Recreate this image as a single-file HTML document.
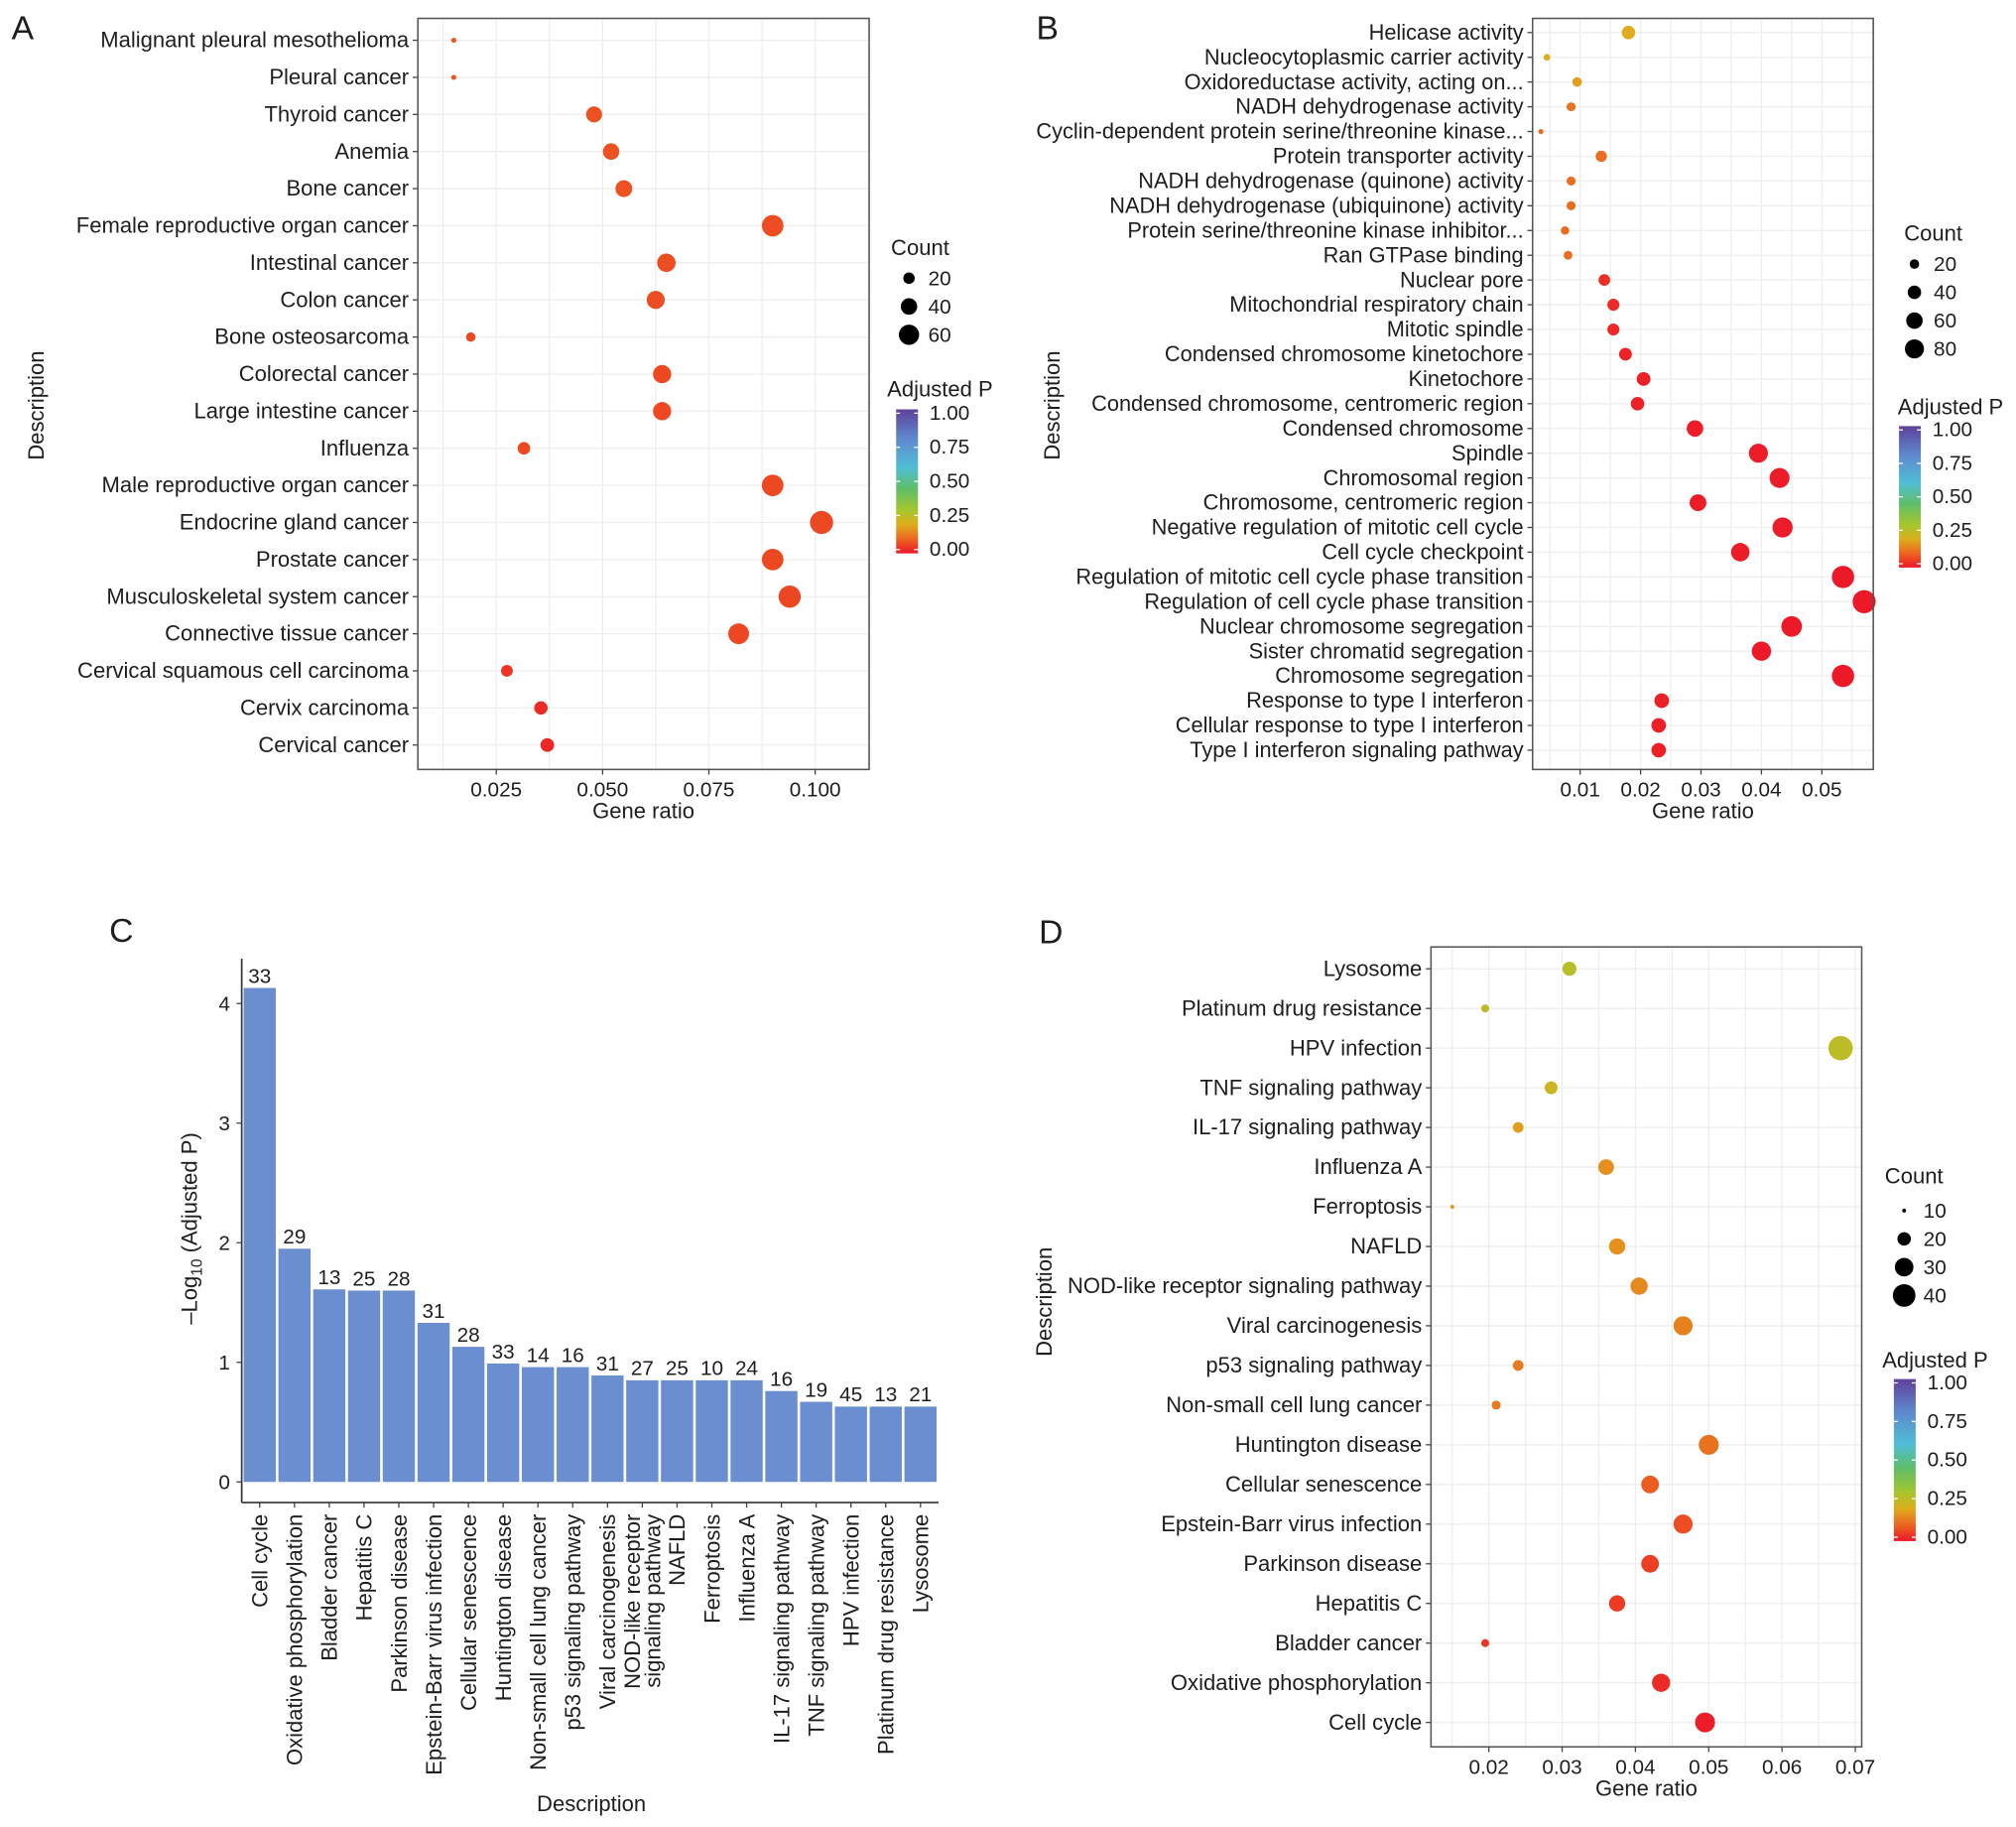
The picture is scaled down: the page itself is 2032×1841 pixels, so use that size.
<!DOCTYPE html>
<html><head><meta charset="utf-8"><style>
html,body{margin:0;padding:0;background:#fff}
svg{display:block}
text{font-family:"Liberation Sans",Arial,sans-serif;fill:#1e1e1e}
</style></head><body>
<svg id="fig" width="2032" height="1841" viewBox="0 0 1568 1420" xmlns="http://www.w3.org/2000/svg"></svg>
<script>
// ---------- Panel A data ----------
const aTerms=["Malignant pleural mesothelioma","Pleural cancer","Thyroid cancer","Anemia","Bone cancer","Female reproductive organ cancer","Intestinal cancer","Colon cancer","Bone osteosarcoma","Colorectal cancer","Large intestine cancer","Influenza","Male reproductive organ cancer","Endocrine gland cancer","Prostate cancer","Musculoskeletal system cancer","Connective tissue cancer","Cervical squamous cell carcinoma","Cervix carcinoma","Cervical cancer"];
const aRatio=[0.015,0.015,0.048,0.052,0.055,0.090,0.065,0.0625,0.019,0.064,0.064,0.0315,0.090,0.1015,0.090,0.094,0.082,0.0275,0.0355,0.037];
const aCount=[5,5,38,40,42,68,50,48,14,49,49,24,68,78,68,72,63,21,27,28];
const aP=[0.08,0.08,0.075,0.075,0.075,0.07,0.07,0.07,0.065,0.065,0.065,0.065,0.065,0.065,0.065,0.06,0.06,0.035,0.025,0.02];
const aTicks=[0.025,0.050,0.075,0.100];
const aTickLabels=["0.025","0.050","0.075","0.100"];
const aLegendCounts=[20,40,60];
// ---------- Panel B data ----------
const bTerms=["Helicase activity","Nucleocytoplasmic carrier activity","Oxidoreductase activity, acting on...","NADH dehydrogenase activity","Cyclin-dependent protein serine/threonine kinase...","Protein transporter activity","NADH dehydrogenase (quinone) activity","NADH dehydrogenase (ubiquinone) activity","Protein serine/threonine kinase inhibitor...","Ran GTPase binding","Nuclear pore","Mitochondrial respiratory chain","Mitotic spindle","Condensed chromosome kinetochore","Kinetochore","Condensed chromosome, centromeric region","Condensed chromosome","Spindle","Chromosomal region","Chromosome, centromeric region","Negative regulation of mitotic cell cycle","Cell cycle checkpoint","Regulation of mitotic cell cycle phase transition","Regulation of cell cycle phase transition","Nuclear chromosome segregation","Sister chromatid segregation","Chromosome segregation","Response to type I interferon","Cellular response to type I interferon","Type I interferon signaling pathway"];
const bRatio=[0.018,0.0045,0.0095,0.0085,0.0035,0.0135,0.0085,0.0085,0.0075,0.008,0.014,0.0155,0.0155,0.0175,0.0205,0.0195,0.029,0.0395,0.043,0.0295,0.0435,0.0365,0.0535,0.057,0.045,0.040,0.0535,0.0235,0.023,0.023];
const bCount=[40,10,20,18,6,28,18,18,16,17,30,32,32,36,42,40,60,80,88,62,90,75,110,118,94,82,110,48,47,47];
const bP=[0.2,0.2,0.18,0.12,0.11,0.11,0.11,0.11,0.11,0.11,0.03,0.025,0.02,0.015,0.01,0.01,0.005,0.005,0.005,0.005,0.005,0.005,0.002,0.002,0.002,0.002,0.002,0.01,0.01,0.01];
const bTicks=[0.01,0.02,0.03,0.04,0.05];
const bTickLabels=["0.01","0.02","0.03","0.04","0.05"];
const bLegendCounts=[20,40,60,80];
// ---------- Panel C data ----------
const cTerms=["Cell cycle","Oxidative phosphorylation","Bladder cancer","Hepatitis C","Parkinson disease","Epstein-Barr virus infection","Cellular senescence","Huntington disease","Non-small cell lung cancer","p53 signaling pathway","Viral carcinogenesis","NOD-like receptor|signaling pathway","NAFLD","Ferroptosis","Influenza A","IL-17 signaling pathway","TNF signaling pathway","HPV infection","Platinum drug resistance","Lysosome"];
const cValues=[4.13,1.95,1.61,1.60,1.60,1.33,1.13,0.99,0.96,0.96,0.89,0.85,0.85,0.85,0.85,0.76,0.67,0.63,0.63,0.63];
const cCounts=[33,29,13,25,28,31,28,33,14,16,31,27,25,10,24,16,19,45,13,21];
const cTicks=[0,1,2,3,4];
// ---------- Panel D data ----------
const dTerms=["Lysosome","Platinum drug resistance","HPV infection","TNF signaling pathway","IL-17 signaling pathway","Influenza A","Ferroptosis","NAFLD","NOD-like receptor signaling pathway","Viral carcinogenesis","p53 signaling pathway","Non-small cell lung cancer","Huntington disease","Cellular senescence","Epstein-Barr virus infection","Parkinson disease","Hepatitis C","Bladder cancer","Oxidative phosphorylation","Cell cycle"];
const dRatio=[0.031,0.0195,0.068,0.0285,0.024,0.036,0.015,0.0375,0.0405,0.0465,0.024,0.021,0.050,0.042,0.0465,0.042,0.0375,0.0195,0.0435,0.0495];
const dCount=[21,13,45,19,16,24,10,25,27,31,16,14,33,28,31,28,25,13,29,33];
const dP=[0.27,0.26,0.26,0.23,0.18,0.16,0.16,0.16,0.15,0.14,0.13,0.13,0.12,0.09,0.07,0.05,0.045,0.04,0.025,0.005];
const dTicks=[0.02,0.03,0.04,0.05,0.06,0.07];
const dTickLabels=["0.02","0.03","0.04","0.05","0.06","0.07"];
const dLegendCounts=[10,20,30,40];

const NS="http://www.w3.org/2000/svg";
const svg=document.getElementById('fig');
function el(tag,attrs,parent,txt){const e=document.createElementNS(NS,tag);for(const k in attrs)e.setAttribute(k,attrs[k]);if(txt!==undefined)e.textContent=txt;(parent||svg).appendChild(e);return e;}
const stops=[[0,[236,24,40]],[0.1,[236,100,32]],[0.2,[222,172,28]],[0.3,[165,198,45]],[0.45,[95,190,105]],[0.6,[80,190,215]],[0.8,[95,135,205]],[1,[95,65,155]]];
function pcol(p){for(let i=1;i<stops.length;i++){if(p<=stops[i][0]){const a=stops[i-1],b=stops[i];const t=(p-a[0])/(b[0]-a[0]);const c=a[1].map((v,j)=>Math.round(v+(b[1][j]-v)*t));return `rgb(${c[0]},${c[1]},${c[2]})`;}}return 'rgb(95,65,155)';}

let gradN=0;
function colorbar(g,x,y,w,h,labelX){
  const id='cb'+(gradN++);
  const defs=el('defs',{},g);
  const lg=el('linearGradient',{id:id,x1:0,y1:1,x2:0,y2:0},defs);
  stops.forEach(s=>el('stop',{offset:s[0],'stop-color':pcol(s[0])},lg));
  const r=el('rect',{x:x,y:y,width:w,height:h,fill:`url(#${id})`},g);
  
  
  ['1.00','0.75','0.50','0.25','0.00'].forEach((t,i)=>{
    const ty=y+3+i*(h-6)/4;
    el('line',{x1:x,x2:x+3,y1:ty,y2:ty,stroke:'#fff'},g);
    el('line',{x1:x+w-3,x2:x+w,y1:ty,y2:ty,stroke:'#fff'},g);
    const tt=el('text',{x:labelX,y:ty+5,'font-size':16},g,t);
    
    
  });
}

function dotPanel(cfg){
  const g=el('g',{});
  
  
  const {L,R,T,B,y0,y1,x0v,x0p,pxPer}=cfg;
  const xs=v=>x0p+(v-x0v)*pxPer;
  const n=cfg.terms.length;
  const ys=i=>y0+i*(y1-y0)/(n-1);
  el('rect',{x:L,y:T,width:R-L,height:B-T,fill:'#fff'},g);
  const step=cfg.ticks[1]-cfg.ticks[0];
  for(let v=cfg.ticks[0]-step*3;v<=cfg.ticks[cfg.ticks.length-1]+step*3;v+=step/2){
    const x=xs(v); if(x<=L||x>=R)continue;
    el('line',{x1:x,x2:x,y1:T,y2:B,stroke:'#eeeeee','stroke-width':1},g);
  }
  for(let i=0;i<n;i++)el('line',{x1:L,x2:R,y1:ys(i),y2:ys(i),stroke:'#eeeeee','stroke-width':1},g);
  const area=c=>Math.sqrt(cfg.rmin*cfg.rmin+(c-cfg.cmin)/(cfg.cmax-cfg.cmin)*(cfg.rmax*cfg.rmax-cfg.rmin*cfg.rmin));
  cfg.terms.forEach((t,i)=>{
    const y=ys(i);
    el('line',{x1:L-4,x2:L,y1:y,y2:y,stroke:'#444'},g);
    const tx=el('text',{x:L-7,y:y+5.5,'font-size':cfg.fs,'text-anchor':'end'},g,t);
    
    
    const c=el('circle',{cx:xs(cfg.ratio[i]),cy:y,r:area(cfg.count[i]),fill:pcol(cfg.p[i])},g);
    
    
  });
  el('rect',{x:L,y:T,width:R-L,height:B-T,fill:'none',stroke:'#555','stroke-width':1.2},g);
  cfg.ticks.forEach((v,i)=>{
    const x=xs(v);
    el('line',{x1:x,x2:x,y1:B,y2:B+4,stroke:'#444'},g);
    const tl=el('text',{x:x,y:B+21,'font-size':16,'text-anchor':'middle'},g,cfg.tickLabels[i]);
    
    
  });
  const xt=el('text',{x:(L+R)/2,y:B+38,'font-size':17,'text-anchor':'middle'},g,'Gene ratio');
  
  
  const yt=el('text',{x:0,y:0,'font-size':17,'text-anchor':'middle',transform:`translate(${cfg.descX},${cfg.descY}) rotate(-90)`},g,'Description');
  
  
  const lt=el('text',{x:cfg.letter[0],y:cfg.letter[1],'font-size':26},g,cfg.letter[2]);
  
  
  const lg=cfg.leg;
  const ct=el('text',{x:lg.cx,y:lg.cy,'font-size':17},g,'Count');
  
  
  cfg.legCounts.forEach((c,i)=>{
    const y=lg.ey0+i*lg.estep;
    const lc=el('circle',{cx:lg.dx,cy:y,r:area(c),fill:'#000'},g);
    
    
    const ll=el('text',{x:lg.dx+15,y:y+5.5,'font-size':16},g,String(c));
    
    
  });
  const pt=el('text',{x:lg.px,y:lg.py,'font-size':17},g,'Adjusted P');
  
  
  colorbar(g,lg.bx,lg.by,17,lg.bh,lg.bx+26);
}

dotPanel({name:'panel-a',L:325,R:676,T:14,B:598,y0:31,y1:579,x0v:0.025,x0p:386,pxPer:3307,
  terms:aTerms,ratio:aRatio,count:aCount,p:aP,ticks:aTicks,tickLabels:aTickLabels,legCounts:aLegendCounts,
  rmin:2,rmax:9,cmin:5,cmax:78,fs:17,descX:34,descY:315,letter:[9,30,'A'],
  leg:{cx:693,cy:198,dx:707,ey0:216,estep:22,px:690,py:308,bx:697,by:318,bh:112}});
dotPanel({name:'panel-b',L:1192,R:1457,T:14,B:598,y0:25,y1:583,x0v:0.01,x0p:1229,pxPer:4700,
  terms:bTerms,ratio:bRatio,count:bCount,p:bP,ticks:bTicks,tickLabels:bTickLabels,legCounts:bLegendCounts,
  rmin:2,rmax:9,cmin:6,cmax:118,fs:16.8,descX:824,descY:315,letter:[806,30,'B'],
  leg:{cx:1481,cy:187,dx:1489,ey0:205,estep:22,px:1476,py:322,bx:1477,by:331,bh:110}});
dotPanel({name:'panel-d',L:1113,R:1448,T:736,B:1358,y0:753,y1:1339,x0v:0.02,x0p:1158,pxPer:5700,
  terms:dTerms,ratio:dRatio,count:dCount,p:dP,ticks:dTicks,tickLabels:dTickLabels,legCounts:dLegendCounts,
  rmin:1.5,rmax:9.5,cmin:10,cmax:45,fs:17,descX:818,descY:1012,letter:[808,733,'D'],
  leg:{cx:1466,cy:920,dx:1481,ey0:941,estep:22,px:1464,py:1063,bx:1473,by:1072,bh:126}});

// ---------- Panel C ----------
(function(){
  const g=el('g',{});
  
  
  const L=188,Bax=1168,y0=1152,per=93,x0=202,step=27.05,bw=25;
  const ys=v=>y0-v*per;
  const xs=i=>x0+i*step;
  cValues.forEach((v,i)=>{
    const b=el('rect',{x:xs(i)-bw/2,y:ys(v),width:bw,height:y0-ys(v),fill:'#6a8ecf'},g);
    
    
    const t=el('text',{x:xs(i),y:ys(v)-4,'font-size':16,'text-anchor':'middle'},g,String(cCounts[i]));
    
    
    const x=xs(i);
    el('line',{x1:x,x2:x,y1:Bax,y2:Bax+4,stroke:'#444'},g);
    const parts=cTerms[i].split('|');
    parts.forEach((p,j)=>{
      const off=(j-(parts.length-1)/2)*16;
      const tl=el('text',{x:0,y:0,'font-size':17,'text-anchor':'end',transform:`translate(${x+6+off},${Bax+9}) rotate(-90)`},g,p);
      
      
    });
  });
  el('line',{x1:L,x2:L,y1:745,y2:Bax,stroke:'#333','stroke-width':1.3},g);
  el('line',{x1:L,x2:730,y1:Bax,y2:Bax,stroke:'#333','stroke-width':1.3},g);
  cTicks.forEach(v=>{
    el('line',{x1:L-4,x2:L,y1:ys(v),y2:ys(v),stroke:'#444'},g);
    const t=el('text',{x:L-9,y:ys(v)+5.5,'font-size':16,'text-anchor':'end'},g,String(v));
    
    
  });
  const yt=el('text',{x:0,y:0,'font-size':17,'text-anchor':'middle',transform:'translate(153,955) rotate(-90)'},g);
  
  
  el('tspan',{},yt,'\u2013Log');
  el('tspan',{'font-size':12,dy:4},yt,'10');
  el('tspan',{dy:-4},yt,' (Adjusted P)');
  const xt=el('text',{x:460,y:1408,'font-size':17,'text-anchor':'middle'},g,'Description');
  
  
  const lt=el('text',{x:85,y:732,'font-size':26},g,'C');
  
  
})();
</script>
</body></html>
